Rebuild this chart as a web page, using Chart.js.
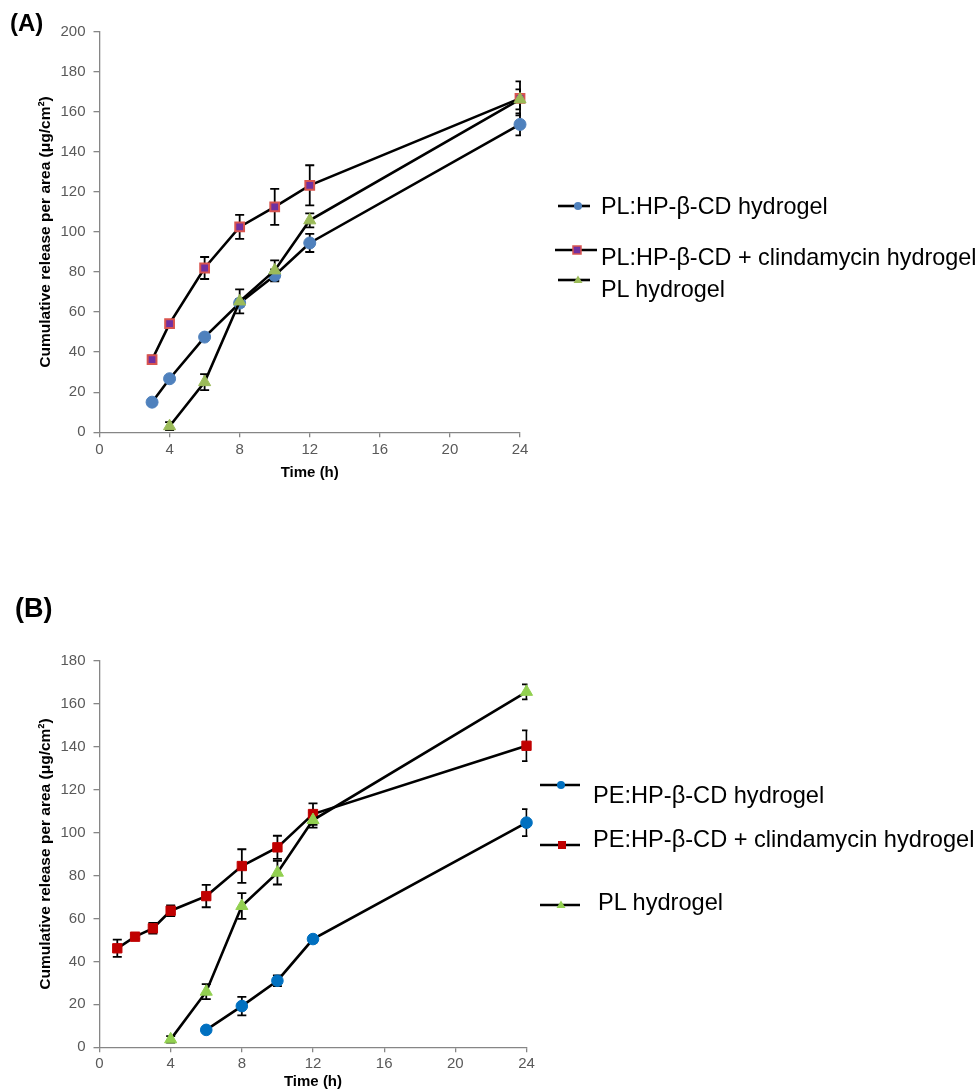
<!DOCTYPE html>
<html>
<head>
<meta charset="utf-8">
<script src="https://cdn.jsdelivr.net/npm/chart.js@4.4.1/dist/chart.umd.min.js"></script>
<style>
  html, body { margin: 0; padding: 0; background: #fff; }
  body { width: 979px; height: 1091px; position: relative; overflow: hidden;
         font-family: "Liberation Sans", Arial, sans-serif; }
  .panel { position: absolute; left: 0; }
  .txt { position: absolute; color: #000; line-height: 1; white-space: nowrap;
         transform: translateY(-50%); }
  .bold { font-weight: bold; }
  svg.mk { position: absolute; left: 0; top: 0; overflow: visible; pointer-events: none; }
</style>
</head>
<body>
<canvas id="chartA" class="panel" width="979" height="520" style="top:0"></canvas>
<canvas id="chartB" class="panel" width="979" height="551" style="top:540px"></canvas>
<svg class="mk" id="marks" width="979" height="1091"></svg>

<script>
// ---------- Panel (A) ----------
const panelTitleA = '(A)';
const namesA = ['PL:HP-\u03B2-CD hydrogel', 'PL:HP-\u03B2-CD + clindamycin hydrogel', 'PL hydrogel'];

const timeA_PLHP = [3, 4, 6, 8, 10, 12, 24];
const releaseA_PLHP = [15, 26.7, 47.5, 64.5, 78.3, 94.5, 153.7];
const sdA_PLHP = [1, 1.2, 1.5, 2, 3, 4.5, 5.5];

const timeA_PLHPClin = [3, 4, 6, 8, 10, 12, 24];
const releaseA_PLHPClin = [36.2, 54.2, 82, 102.5, 112.5, 123.3, 166.7];
const sdA_PLHPClin = [2, 1.5, 5.5, 6, 9, 10, 8.5];

const timeA_PL = [4, 6, 8, 10, 12, 24];
const releaseA_PL = [3, 25, 65.3, 80.8, 105.8, 166.2];
const sdA_PL = [2, 4, 6, 5, 3.5, 5];

const yTicksA = [0, 20, 40, 60, 80, 100, 120, 140, 160, 180, 200];

// ---------- Panel (B) ----------
const panelTitleB = '(B)';
const namesB = ['PE:HP-\u03B2-CD hydrogel', 'PE:HP-\u03B2-CD + clindamycin hydrogel', 'PL hydrogel'];

const timeB_PEHP = [6, 8, 10, 12, 24];
const releaseB_PEHP = [8.1, 19.2, 31, 50.4, 104.6];
const sdB_PEHP = [1, 4.3, 2.5, 1.5, 6.3];

const timeB_PEHPClin = [1, 2, 3, 4, 6, 8, 10, 12, 24];
const releaseB_PEHPClin = [46.1, 51.5, 55.4, 63.6, 70.4, 84.4, 93.1, 108.6, 140.4];
const sdB_PEHPClin = [4, 1, 2.5, 2.5, 5.2, 7.8, 5.4, 5, 7.2];

const timeB_PL = [4, 6, 8, 10, 12, 24];
const releaseB_PL = [3.7, 25.9, 65.8, 81.3, 105.8, 165.5];
const sdB_PL = [1.5, 3.5, 6, 5.5, 3.5, 3.5];

const yTicksB = [0, 20, 40, 60, 80, 100, 120, 140, 160, 180];

const xTicks = [0, 4, 8, 12, 16, 20, 24];
const xTitle = 'Time (h)';
const yTitle = 'Cumulative release per area (\u03BCg/cm\u00B2)';

// ---------- styling ----------
const FONT = '"Liberation Sans", Arial, sans-serif';
const AXIS_GRAY = '#868686';
const TICK_GRAY = '#595959';

const markerStylesA = [
  { shape: 'circle',   r: 6,   fill: '#4F81BD', stroke: '#4F81BD', bw: 1, order: 2 },
  { shape: 'rect',     r: 6.2, fill: '#7030A0', stroke: '#D9544F', bw: 2, order: 1 },
  { shape: 'triangle', r: 7,   fill: '#9BBB59', stroke: '#9BBB59', bw: 1, order: 0 }
];
const markerStylesB = [
  { shape: 'circle',   r: 5.8, fill: '#0070C0', stroke: '#0070C0', bw: 1, order: 2 },
  { shape: 'rect',     r: 6.6, fill: '#C00000', stroke: '#C00000', bw: 1, order: 1 },
  { shape: 'triangle', r: 7,   fill: '#92D050', stroke: '#92D050', bw: 1, order: 0 }
];

function makeSeries(label, times, values, sds, st) {
  return {
    label,
    data: times.map((t, i) => ({ x: t, y: values[i] })),
    sd: sds,
    borderColor: '#000',
    borderWidth: 2.6,
    pointStyle: st.shape,
    pointRadius: st.r,
    pointBackgroundColor: st.fill,
    pointBorderColor: st.stroke,
    pointBorderWidth: st.bw,
    tension: 0,
    clip: false,
    order: st.order
  };
}

// vertical error bars with caps, drawn beneath the lines and markers;
// anything past the right end of the time axis is cut off
const errorBars = {
  id: 'errorBars',
  beforeDatasetsDraw(chart) {
    const { ctx, chartArea, scales: { x, y } } = chart;
    ctx.save();
    ctx.beginPath();
    ctx.rect(0, 0, chartArea.right + 1, chart.height);
    ctx.clip();
    ctx.strokeStyle = '#000';
    ctx.lineWidth = 1.8;
    const cap = 4.5;
    chart.data.datasets.forEach(ds => {
      (ds.sd || []).forEach((e, i) => {
        const p = ds.data[i];
        const px = x.getPixelForValue(p.x);
        const yt = y.getPixelForValue(p.y + e);
        const yb = y.getPixelForValue(p.y - e);
        ctx.beginPath();
        ctx.moveTo(px, yt); ctx.lineTo(px, yb);
        ctx.moveTo(px - cap, yt); ctx.lineTo(px + cap, yt);
        ctx.moveTo(px - cap, yb); ctx.lineTo(px + cap, yb);
        ctx.stroke();
      });
    });
    ctx.restore();
  }
};

function makeScales(yMax, yTicks, yWidth, xHeight, xPad) {
  const tickFont = { family: FONT, size: 15 };
  const xTitleFont = { family: FONT, size: 15, weight: 'bold' };
  const yTitleFont = { family: FONT, size: 15.5, weight: 'bold' };
  return {
    x: {
      type: 'linear', min: 0, max: 24,
      afterBuildTicks: s => { s.ticks = xTicks.map(v => ({ value: v })); },
      ticks: { color: TICK_GRAY, font: tickFont, padding: xPad, maxRotation: 0, autoSkip: false },
      grid: { drawOnChartArea: false, drawTicks: true, tickLength: 5, color: AXIS_GRAY, lineWidth: 1.3 },
      border: { display: true, color: AXIS_GRAY, width: 1.3 },
      title: { display: true, text: xTitle, color: '#000', font: xTitleFont, padding: { top: 0, bottom: 0 } },
      afterFit: s => { s.height = xHeight; }
    },
    y: {
      type: 'linear', min: 0, max: yMax,
      afterBuildTicks: s => { s.ticks = yTicks.map(v => ({ value: v })); },
      ticks: { color: TICK_GRAY, font: tickFont, padding: 8, autoSkip: false },
      grid: { drawOnChartArea: false, drawTicks: true, tickLength: 6, color: AXIS_GRAY, lineWidth: 1.3 },
      border: { display: true, color: AXIS_GRAY, width: 1.3 },
      title: { display: true, text: yTitle, color: '#000', font: yTitleFont, padding: { top: 36.7, bottom: 0 } },
      afterFit: s => { s.width = yWidth; }
    }
  };
}

function baseOptions(padding, scales) {
  return {
    responsive: false,
    animation: false,
    events: [],
    layout: { padding },
    scales,
    plugins: { legend: { display: false }, tooltip: { enabled: false } }
  };
}

new Chart(document.getElementById('chartA'), {
  type: 'line',
  data: {
    datasets: [
      makeSeries(namesA[0], timeA_PLHP, releaseA_PLHP, sdA_PLHP, markerStylesA[0]),
      makeSeries(namesA[1], timeA_PLHPClin, releaseA_PLHPClin, sdA_PLHPClin, markerStylesA[1]),
      makeSeries(namesA[2], timeA_PL, releaseA_PL, sdA_PL, markerStylesA[2])
    ]
  },
  options: baseOptions({ left: 0, top: 31.7, right: 459, bottom: 38 },
                       makeScales(200, yTicksA, 99.5, 49.8, 3.5)),
  plugins: [errorBars]
});

new Chart(document.getElementById('chartB'), {
  type: 'line',
  data: {
    datasets: [
      makeSeries(namesB[0], timeB_PEHP, releaseB_PEHP, sdB_PEHP, markerStylesB[0]),
      makeSeries(namesB[1], timeB_PEHPClin, releaseB_PEHPClin, sdB_PEHPClin, markerStylesB[1]),
      makeSeries(namesB[2], timeB_PL, releaseB_PL, sdB_PL, markerStylesB[2])
    ]
  },
  options: baseOptions({ left: 0, top: 120.7, right: 452.5, bottom: 0 },
                       makeScales(180, yTicksB, 99.5, 43.7, 2.4)),
  plugins: [errorBars]
});

// ---------- panel letters and legends ----------
const legendLayoutA = {
  fontSize: 23.4,
  items: [
    { line: [558, 590, 206], mark: 578, text: [601, 207] },
    { line: [555, 597, 250], mark: 577, text: [601, 258] },
    { line: [558, 590, 280], mark: 578, text: [601, 290] }
  ]
};
const legendLayoutB = {
  fontSize: 23.6,
  items: [
    { line: [540, 580, 785], mark: 561, text: [593, 796] },
    { line: [540, 580, 845], mark: 562, text: [593, 840] },
    { line: [540, 580, 905], mark: 561, text: [598, 903] }
  ]
};

function addText(str, x, y, size, bold) {
  const d = document.createElement('div');
  d.className = 'txt' + (bold ? ' bold' : '');
  d.style.left = x + 'px';
  d.style.top = y + 'px';
  d.style.fontSize = size + 'px';
  d.textContent = str;
  document.body.appendChild(d);
}

const svg = document.getElementById('marks');
const NS = 'http://www.w3.org/2000/svg';
function svgEl(tag, attrs) {
  const e = document.createElementNS(NS, tag);
  for (const k in attrs) e.setAttribute(k, attrs[k]);
  svg.appendChild(e);
  return e;
}
function legendMark(st, cx, cy) {
  if (st.shape === 'circle') {
    svgEl('circle', { cx, cy, r: 4, fill: st.fill });
  } else if (st.shape === 'rect') {
    svgEl('rect', { x: cx - 4, y: cy - 4, width: 8, height: 8, fill: st.fill,
                    stroke: st.stroke, 'stroke-width': st.bw > 1 ? 1.5 : 0 });
  } else {
    svgEl('polygon', { points: `${cx},${cy - 4.5} ${cx + 4.5},${cy + 3} ${cx - 4.5},${cy + 3}`, fill: st.fill });
  }
}
function drawLegend(layout, names, styles) {
  layout.items.forEach((it, i) => {
    const [x1, x2, y] = it.line;
    svgEl('line', { x1, y1: y, x2, y2: y, stroke: '#000', 'stroke-width': 2.6 });
    legendMark(styles[i], it.mark, y);
    addText(names[i], it.text[0], it.text[1], layout.fontSize, false);
  });
}

addText(panelTitleA, 10, 23, 24, true);
addText(panelTitleB, 15, 608, 27, true);
drawLegend(legendLayoutA, namesA, markerStylesA);
drawLegend(legendLayoutB, namesB, markerStylesB);
</script>
</body>
</html>
